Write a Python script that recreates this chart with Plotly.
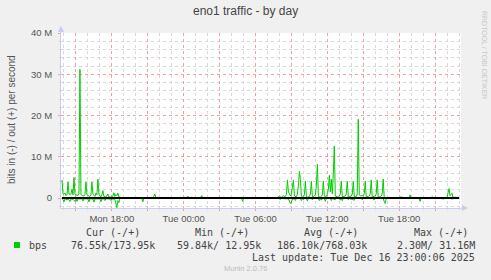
import pandas as pd
import plotly.graph_objects as go

# ---------------- data ----------------
# times ("day hh:mm" in Dec 2025) and traffic in Mbit/s
out_time = ["15 13:50","15 13:55","15 14:00","15 14:05","15 14:10","15 14:15","15 14:20","15 14:25","15 14:30","15 14:35",
            "15 14:40","15 14:45","15 14:50","15 14:55","15 15:00","15 15:05","15 15:10","15 15:15","15 15:20","15 15:25",
            "15 15:30","15 15:40","15 15:45","15 15:50","15 15:55","15 16:05","15 16:10","15 16:15","15 16:20","15 16:25",
            "15 16:35","15 16:40","15 16:45","15 16:50","15 16:55","15 17:00","15 17:05","15 17:10","15 17:15","15 17:20",
            "15 17:30","15 17:35","15 17:40","15 17:45","15 17:55","15 18:05","15 18:10","15 18:15","15 18:20","15 18:25",
            "15 18:30","15 18:35","15 18:45","15 21:25","15 21:30","15 21:35","15 21:40",
            "16 00:15","16 00:20","16 00:25","16 01:25","16 01:30","16 01:35",
            "16 07:50","16 07:55","16 08:00","16 08:05","16 08:10","16 08:15","16 08:20","16 08:25","16 08:30","16 08:35",
            "16 08:40","16 08:45","16 08:50","16 08:55","16 09:00","16 09:05","16 09:10","16 09:15","16 09:20","16 09:25",
            "16 09:30","16 09:35","16 09:40","16 09:45","16 09:50","16 09:55","16 10:00","16 10:05","16 10:10","16 10:15",
            "16 10:20","16 10:30","16 10:35","16 10:40","16 10:45","16 10:55","16 11:00","16 11:05","16 11:10","16 11:15",
            "16 11:25","16 11:30","16 11:35","16 11:40","16 11:45","16 11:55","16 12:00","16 12:05","16 12:10","16 12:15",
            "16 12:20","16 12:25","16 12:30","16 12:35","16 12:40","16 12:50","16 12:55","16 13:00","16 13:05","16 13:10",
            "16 13:15","16 13:25","16 13:30","16 13:35","16 13:40","16 13:45","16 13:55","16 14:00","16 14:05","16 14:10",
            "16 14:15","16 14:25","16 14:30","16 14:35","16 14:40","16 14:45","16 15:00","16 15:05","16 15:10","16 15:15",
            "16 15:25","16 15:30","16 15:35","16 15:40","16 15:45","16 15:55","16 16:00","16 16:05","16 16:10","16 16:15",
            "16 16:25","16 16:30","16 16:35","16 16:40","16 16:45","16 16:50",
            "16 18:05","16 18:10","16 18:15","16 18:50","16 18:55","16 19:00","16 20:40","16 20:45","16 20:50",
            "16 22:00","16 22:05","16 22:10","16 22:15","16 22:20","16 22:25","16 22:30","16 23:00"]
out_mbps = [4.4,1.0,0.9,1.2,0.6,0.8,3.9,1.0,0.9,1.0,
            2.2,0.8,5.0,1.0,0.7,0.8,0.6,1.0,31.16,1.0,
            0.6,0.5,0.9,3.9,0.8,0.5,0.4,0.8,3.9,1.0,
            0.4,1.2,0.8,4.6,1.0,0.5,0.3,0.8,1.8,0.4,
            0.3,0.5,1.0,0.3,0.2,0.5,1.3,0.4,0.9,0.6,
            1.2,0.3,0.15,0.15,0.4,1.0,0.15,
            0.15,0.5,0.15,0.15,0.6,0.15,
            0.15,0.4,0.5,0.3,0.2,0.4,0.6,0.3,0.4,1.0,
            4.4,1.5,1.0,0.5,1.0,2.5,4.4,0.5,0.4,0.3,
            1.0,3.0,6.5,4.5,0.5,0.3,0.4,0.8,4.1,0.3,
            0.2,0.4,0.9,4.1,0.3,0.5,0.8,3.0,8.2,0.3,
            0.3,0.4,0.8,4.1,0.5,0.4,1.0,2.0,5.5,1.5,
            4.6,1.0,6.0,12.6,0.5,0.3,0.4,0.5,1.0,4.1,
            0.3,0.4,0.5,1.0,4.1,0.3,0.4,0.5,1.0,4.1,
            0.3,0.4,1.0,19.1,0.8,0.55,0.55,1.0,4.1,0.3,
            0.4,0.5,1.0,4.4,0.3,0.4,0.5,1.0,4.4,0.3,
            0.3,0.5,1.0,4.6,0.3,0.15,
            0.15,0.4,0.15,0.15,0.8,0.15,0.15,0.35,0.15,
            0.15,1.0,2.3,0.6,1.0,1.2,0.2,0.17]

in_time = ["15 13:50","15 13:55","15 14:00","15 14:05","15 14:10","15 14:15","15 14:20","15 14:30","15 14:35","15 14:45",
           "15 14:55","15 15:00","15 15:05","15 15:10","15 15:30","15 15:35","15 15:40","15 16:00","15 16:05","15 16:10",
           "15 16:25","15 16:30","15 16:35","15 17:00","15 17:05","15 17:10","15 17:20","15 17:25","15 17:30","15 17:50",
           "15 17:55","15 18:00","15 18:15","15 18:20","15 18:25","15 18:30","15 18:35","15 18:40",
           "15 20:30","15 20:35","15 20:40","16 04:50","16 04:55","16 05:00",
           "16 07:55","16 08:05","16 08:10","16 08:45","16 08:50","16 08:55","16 09:00","16 09:05","16 09:15","16 09:20",
           "16 09:25","16 09:45","16 09:50","16 09:55","16 10:00","16 10:05","16 10:15","16 10:20","16 10:25","16 10:40",
           "16 10:45","16 10:50","16 11:15","16 11:20","16 11:25","16 11:30","16 11:35","16 11:45","16 11:50","16 11:55",
           "16 12:15","16 12:20","16 12:25","16 12:40","16 12:45","16 13:00","16 13:05","16 13:10","16 13:15","16 13:20",
           "16 13:40","16 13:45","16 13:50","16 14:15","16 14:20","16 14:50","16 14:55","16 15:00","16 15:50","16 15:55",
           "16 16:00","16 16:40","16 16:45","16 16:50","16 16:55",
           "16 19:40","16 19:45","16 19:50","16 21:35","16 21:40","16 21:45","16 22:20","16 22:25","16 22:30","16 23:00"]
in_mbps = [0.1,0.3,0.9,0.2,0.2,0.5,0.1,0.8,0.2,0.3,
           0.8,0.2,0.8,0.2,0.2,0.7,0.2,0.2,0.9,0.2,
           0.2,1.0,0.2,0.2,0.9,0.2,0.2,0.6,0.2,0.2,
           0.6,0.2,0.3,1.4,2.3,0.6,1.1,0.1,
           0.08,0.9,0.08,0.08,0.8,0.08,
           0.08,0.3,0.1,0.2,0.8,1.3,0.9,0.2,0.2,0.6,
           0.1,0.1,0.6,0.2,0.4,0.1,0.1,0.7,0.1,0.1,
           0.4,0.1,0.1,0.6,0.1,0.5,0.1,0.1,0.8,0.1,
           0.1,0.6,0.1,0.4,0.1,0.1,0.5,0.1,0.6,0.1,
           0.1,0.4,0.1,0.5,0.1,0.1,0.4,0.1,0.1,0.5,
           0.1,0.1,0.8,1.3,0.1,
           0.08,0.8,0.08,0.08,0.3,0.08,0.08,0.3,0.08,0.077]

x_range = ["2025-12-15 13:45", "2025-12-16 23:10"]
grid_ticks = ["2025-12-15 15:00", "2025-12-15 18:00", "2025-12-15 21:00", "2025-12-16 00:00",
              "2025-12-16 03:00", "2025-12-16 06:00", "2025-12-16 09:00", "2025-12-16 12:00",
              "2025-12-16 15:00", "2025-12-16 18:00", "2025-12-16 21:00"]
grid_labels = ["", "Mon 18:00", "", "Tue 00:00", "", "Tue 06:00", "", "Tue 12:00", "", "Tue 18:00", ""]
y_ticks = [0, 10e6, 20e6, 30e6, 40e6]
y_labels = ["0", "10 M", "20 M", "30 M", "40 M"]

legend_headers = ["Cur (-/+)", "Min (-/+)", "Avg (-/+)", "Max (-/+)"]
legend_values = ["76.55k/173.95k", "59.84k/ 12.95k", "186.10k/768.03k", "2.30M/ 31.16M"]
series_name = "bps"
last_update = "Last update: Tue Dec 16 23:00:06 2025"

# ---------------- figure ----------------
W, H = 491, 280
L, R, T, B = 61, 30, 33, 72
PW, PH = W - L - R, H - T - B

def px(x):
    return (x - L) / PW

def py(y):
    return (H - B - y) / PH

GREEN = "#00CC00"
ot = pd.to_datetime(["2025-12-" + s for s in out_time])
it = pd.to_datetime(["2025-12-" + s for s in in_time])

fig = go.Figure()
fig.add_trace(go.Scatter(x=it, y=[-v * 1e6 for v in in_mbps], mode="lines",
                         line=dict(color=GREEN, width=1), hoverinfo="skip"))
fig.add_trace(go.Scatter(x=ot, y=[v * 1e6 for v in out_mbps], mode="lines",
                         line=dict(color=GREEN, width=1), hoverinfo="skip"))
fig.add_trace(go.Scatter(x=[ot[0], ot[-1]], y=[0, 0], mode="lines",
                         line=dict(color="#000000", width=2), hoverinfo="skip"))

AX = "#C8CCF4"
MAJ = "#F0A0A0"
MIN = "#D8D8D8"
TXT = "#555555"

fig.update_layout(
    width=W, height=H, margin=dict(l=L, r=R, t=T, b=B, pad=0),
    paper_bgcolor="#F0F0F0", plot_bgcolor="#FFFFFF", showlegend=False,
    font=dict(family="Liberation Sans", size=10, color=TXT),
    xaxis=dict(type="date", range=x_range, tickmode="array", tickvals=grid_ticks, ticktext=grid_labels,
               showgrid=True, gridcolor=MAJ, griddash="dot", gridwidth=1,
               showline=True, linecolor=AX, linewidth=1, zeroline=False,
               ticks="outside", ticklen=2, tickcolor=MAJ, tickfont=dict(size=9.5, color=TXT),
               minor=dict(dtick=3600000, tick0="2025-12-15 14:00", showgrid=True, gridcolor=MIN,
                          griddash="dot", gridwidth=1, ticks="outside", ticklen=1, tickcolor=MIN),
               fixedrange=True),
    yaxis=dict(range=[-2.4e6, 40e6], tickmode="array", tickvals=y_ticks, ticktext=y_labels,
               showgrid=True, gridcolor=MAJ, griddash="dot", gridwidth=1,
               showline=True, linecolor=AX, linewidth=1, zeroline=False,
               ticks="outside", ticklen=2, tickcolor=MAJ, tickfont=dict(size=9.5, color=TXT),
               ticklabelstandoff=4,
               minor=dict(dtick=2e6, tick0=0, showgrid=True, gridcolor=MIN, griddash="dot", gridwidth=1,
                          ticks="outside", ticklen=1, tickcolor=MIN),
               fixedrange=True),
)

# axis arrows
fig.add_shape(type="line", xref="paper", yref="paper", x0=px(61), x1=px(61), y0=1, y1=py(28),
              line=dict(color=AX, width=1))
fig.add_shape(type="path", xref="paper", yref="paper",
              path=f"M {px(61)} {py(25.5)} L {px(58)} {py(32)} L {px(64)} {py(32)} Z",
              fillcolor=AX, line=dict(width=0))
fig.add_shape(type="line", xref="paper", yref="paper", x0=1, x1=px(465), y0=0, y1=0,
              line=dict(color=AX, width=1))
fig.add_shape(type="path", xref="paper", yref="paper",
              path=f"M {px(468)} {py(208)} L {px(462)} {py(205)} L {px(462)} {py(211)} Z",
              fillcolor=AX, line=dict(width=0))

# title
fig.add_annotation(text="eno1 traffic - by day", xref="paper", yref="paper", x=px(245), y=py(11),
                   showarrow=False, font=dict(size=12, color="#444444"), xanchor="center", yanchor="middle")
# y-axis title
fig.add_annotation(text="bits in (-) / out (+) per second", xref="paper", yref="paper", x=px(11), y=py(120),
                   showarrow=False, textangle=-90, font=dict(size=10, color=TXT), xanchor="center", yanchor="middle")
# rrdtool watermark
fig.add_annotation(text="RRDTOOL / TOBI OETIKER", xref="paper", yref="paper", x=px(484), y=py(55),
                   showarrow=False, textangle=90, font=dict(size=7, color="#C8C8C8"), xanchor="center", yanchor="middle")

MONO = "DejaVu Sans Mono"
hdr_right = [142, 251, 360, 470]
val_right = [157, 263, 369, 477]
for txt, xr in zip(legend_headers, hdr_right):
    fig.add_annotation(text=txt.replace(" ", "&nbsp;"), xref="paper", yref="paper", x=px(xr), y=py(232),
                       showarrow=False, xanchor="right", yanchor="middle",
                       font=dict(family=MONO, size=10, color="#444444"))
for txt, xr in zip(legend_values, val_right):
    fig.add_annotation(text=txt.replace(" ", "&nbsp;"), xref="paper", yref="paper", x=px(xr), y=py(245),
                       showarrow=False, xanchor="right", yanchor="middle",
                       font=dict(family=MONO, size=10, color="#444444"))
fig.add_annotation(text=series_name, xref="paper", yref="paper", x=px(27), y=py(245),
                   showarrow=False, xanchor="left", yanchor="middle",
                   font=dict(family=MONO, size=10, color="#444444"))
fig.add_annotation(text=last_update.replace(" ", "&nbsp;"), xref="paper", yref="paper", x=px(477), y=py(257),
                   showarrow=False, xanchor="right", yanchor="middle",
                   font=dict(family=MONO, size=10, color="#444444"))
fig.add_annotation(text="Munin 2.0.76", xref="paper", yref="paper", x=px(245), y=py(268),
                   showarrow=False, xanchor="center", yanchor="middle",
                   font=dict(size=7.5, color="#BBBBBB"))
fig.add_shape(type="rect", xref="paper", yref="paper", x0=px(14), x1=px(20), y0=py(242), y1=py(248),
              fillcolor=GREEN, line=dict(width=0))

fig.write_html("out.html")
